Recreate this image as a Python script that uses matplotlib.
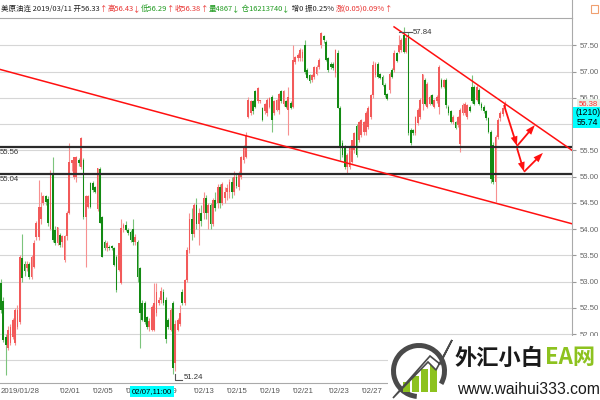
import numpy as np
import matplotlib
matplotlib.use('Agg')
import matplotlib.pyplot as plt
from matplotlib.patches import Rectangle, Wedge, FancyArrowPatch, Polygon
from matplotlib.transforms import blended_transform_factory

# 4-hour candles, crude oil continuous (CL)
opens = [52.97, 52.62, 51.95, 51.73, 51.83, 51.95, 51.83, 52.14, 52.23, 53.44,
         53.34, 53.25, 53.34, 53.09, 53.28, 53.85, 53.85, 54.20, 54.49, 54.62,
         54.58, 54.00, 55.06, 53.98, 53.73, 53.89, 53.76, 53.41, 53.86, 54.30,
         55.25, 55.00, 54.99, 55.31, 55.19, 55.31, 54.23, 54.42, 54.87, 54.87,
         54.80, 54.39, 55.14, 54.23, 53.76, 53.63, 53.66, 53.68, 53.63, 53.47,
         53.22, 52.97, 54.02, 54.07, 53.98, 53.95, 54.00, 53.76, 53.76, 53.25,
         52.59, 52.59, 52.33, 52.14, 52.08, 52.08, 52.40, 52.59, 52.65, 52.80,
         52.65, 52.27, 52.08, 52.59, 51.45, 52.08, 52.20, 52.80, 52.59, 53.03,
         53.60, 54.20, 53.90, 54.45, 54.10, 54.30, 54.30, 54.60, 54.30, 54.45,
         54.10, 54.55, 54.50, 54.80, 54.50, 54.60, 54.70, 54.70, 54.90, 54.70,
         55.00, 54.80, 54.99, 55.31, 55.38, 56.14, 56.21, 56.43, 56.62, 56.43,
         56.43, 56.30, 56.24, 56.21, 56.33, 56.52, 56.21, 56.27, 56.27, 56.62,
         56.39, 56.43, 56.27, 56.40, 56.33, 57.19, 57.25, 57.25, 57.25, 57.50,
         57.03, 56.93, 56.84, 56.90, 56.96, 57.09, 57.50, 57.67, 57.57, 57.25,
         57.15, 57.15, 56.97, 57.35, 56.30, 55.63, 55.57, 55.19, 55.19, 55.28,
         55.50, 55.96, 55.69, 55.79, 55.85, 55.85, 55.95, 56.14, 56.55, 56.93,
         57.15, 56.96, 56.90, 56.74, 56.58, 56.65, 57.03, 57.03, 57.35, 57.38,
         57.41, 57.70, 57.38, 57.70, 55.88, 55.88, 55.82, 56.01, 56.14, 56.39,
         56.84, 56.33, 56.39, 56.55, 56.33, 56.43, 56.32, 56.84, 56.71, 56.84,
         56.33, 56.24, 56.04, 56.04, 55.98, 55.62, 56.21, 56.21, 56.14, 56.33,
         56.71, 56.71, 56.46, 56.65, 56.39, 56.33, 56.24, 56.11, 55.85, 55.60,
         54.90, 55.76, 56.11, 56.20, 56.33]
highs = [53.05, 52.70, 52.00, 52.15, 52.20, 52.30, 52.50, 52.55, 53.50, 53.91,
         53.40, 53.40, 53.38, 53.50, 53.80, 54.15, 54.93, 54.71, 54.65, 54.65,
         54.62, 55.12, 55.38, 54.05, 54.04, 53.92, 53.89, 53.89, 54.35, 55.63,
         55.32, 55.38, 55.40, 55.35, 55.76, 55.35, 54.65, 54.65, 54.90, 54.92,
         54.82, 55.16, 55.18, 54.25, 53.80, 53.78, 53.70, 53.70, 53.65, 53.50,
         53.73, 54.20, 54.12, 54.15, 54.02, 53.98, 54.20, 53.90, 53.80, 53.28,
         52.65, 52.62, 52.35, 52.30, 52.55, 52.97, 52.97, 52.70, 52.90, 52.85,
         52.70, 52.30, 52.50, 52.62, 52.27, 52.30, 52.55, 52.85, 53.05, 53.66,
         54.30, 54.40, 54.50, 54.60, 54.40, 54.45, 54.70, 54.65, 54.50, 54.50,
         54.60, 54.70, 54.85, 54.85, 54.90, 54.80, 54.85, 54.95, 55.00, 55.10,
         55.05, 55.10, 55.40, 55.60, 55.85, 56.52, 56.45, 56.46, 56.65, 56.71,
         56.46, 56.33, 56.40, 56.50, 56.52, 56.55, 56.45, 56.48, 56.60, 56.65,
         56.65, 56.46, 56.71, 56.43, 57.50, 57.30, 57.35, 57.45, 57.42, 57.60,
         57.06, 56.96, 56.96, 57.10, 57.12, 57.25, 57.76, 57.70, 57.60, 57.28,
         57.18, 57.18, 57.42, 57.40, 56.35, 55.70, 55.60, 55.45, 55.60, 55.70,
         55.85, 56.00, 56.06, 56.10, 56.06, 56.25, 56.35, 56.58, 57.20, 57.18,
         57.18, 56.98, 56.93, 56.78, 56.60, 57.00, 57.06, 57.40, 57.38, 57.70,
         57.64, 57.84, 57.70, 57.75, 55.92, 55.90, 56.16, 56.30, 56.50, 56.96,
         56.88, 56.80, 56.55, 56.58, 56.48, 56.55, 57.12, 56.87, 56.86, 56.87,
         56.36, 56.27, 56.18, 56.06, 56.16, 56.30, 56.40, 56.42, 56.38, 56.36,
         56.93, 56.75, 56.74, 56.68, 56.42, 56.36, 56.27, 56.14, 55.88, 55.65,
         55.80, 56.11, 56.25, 56.33, 56.43]
lows = [52.40, 51.85, 51.22, 51.70, 51.80, 51.90, 51.80, 52.10, 52.20, 53.00,
        53.10, 53.20, 53.05, 53.05, 53.25, 53.80, 53.80, 54.10, 54.45, 54.45,
        54.05, 53.98, 53.75, 53.70, 53.70, 53.65, 53.65, 53.38, 53.80, 54.28,
        55.10, 54.95, 54.90, 55.20, 55.15, 54.20, 53.28, 54.40, 54.40, 54.70,
        54.68, 54.35, 54.11, 53.47, 53.60, 53.58, 53.60, 53.60, 53.30, 52.80,
        53.20, 52.95, 53.95, 53.96, 53.88, 53.76, 53.70, 53.70, 53.00, 51.73,
        52.25, 52.20, 52.10, 52.05, 52.05, 52.05, 52.35, 52.55, 52.60, 52.55,
        51.83, 52.10, 52.05, 51.24, 51.30, 52.05, 52.15, 52.55, 52.55, 53.00,
        53.55, 53.80, 53.85, 54.00, 53.70, 54.05, 54.20, 54.20, 54.00, 54.00,
        54.05, 54.35, 54.40, 54.40, 54.45, 54.50, 54.55, 54.60, 54.60, 54.65,
        54.78, 54.75, 54.95, 55.25, 55.35, 56.11, 56.18, 56.20, 56.30, 56.40,
        56.40, 56.05, 56.20, 56.15, 56.30, 55.85, 56.18, 56.25, 56.20, 56.40,
        56.35, 56.30, 55.79, 56.28, 56.30, 57.15, 57.20, 57.20, 57.20, 56.95,
        56.85, 56.78, 56.80, 56.85, 56.93, 57.05, 57.45, 57.55, 57.20, 57.00,
        57.05, 57.03, 56.90, 56.30, 55.31, 55.38, 55.15, 55.06, 55.15, 55.25,
        55.45, 55.38, 55.65, 55.75, 55.80, 55.80, 55.90, 56.10, 56.50, 56.90,
        56.88, 56.85, 56.72, 56.52, 56.45, 56.60, 56.88, 57.00, 57.18, 57.35,
        57.38, 57.35, 57.35, 55.79, 55.60, 55.80, 55.80, 55.98, 56.10, 56.27,
        56.36, 56.30, 56.36, 56.36, 56.30, 56.40, 56.20, 56.68, 56.68, 56.30,
        56.18, 56.01, 56.00, 55.90, 55.95, 55.47, 56.18, 56.18, 56.10, 56.22,
        56.40, 56.36, 56.43, 56.36, 56.27, 56.21, 56.08, 55.82, 54.87, 54.85,
        54.52, 55.72, 56.05, 56.15, 56.29]
closes = [52.46, 51.89, 51.80, 52.08, 52.14, 52.27, 52.46, 52.46, 53.47, 53.06,
          53.20, 53.34, 53.09, 53.47, 53.73, 54.11, 54.42, 54.42, 54.62, 54.52,
          54.11, 55.06, 53.79, 53.73, 54.04, 53.70, 53.86, 53.86, 54.30, 55.28,
          55.31, 55.38, 55.38, 55.25, 55.73, 54.23, 54.62, 54.62, 54.42, 54.74,
          54.71, 55.16, 54.11, 53.47, 53.63, 53.74, 53.63, 53.63, 53.31, 52.84,
          53.73, 54.02, 54.07, 53.99, 53.92, 53.79, 53.76, 53.85, 53.09, 52.40,
          52.27, 52.23, 52.14, 52.25, 52.52, 52.59, 52.80, 52.65, 52.82, 52.59,
          51.90, 52.14, 52.45, 51.35, 52.20, 52.27, 52.40, 52.60, 53.03, 53.60,
          54.20, 53.90, 54.45, 54.10, 54.30, 54.15, 54.60, 54.30, 54.45, 54.10,
          54.55, 54.40, 54.80, 54.50, 54.85, 54.70, 54.78, 54.90, 54.70, 55.00,
          54.82, 55.05, 55.38, 55.57, 55.79, 56.46, 56.43, 56.24, 56.33, 56.68,
          56.45, 56.08, 56.39, 56.46, 56.49, 56.08, 56.43, 56.46, 56.58, 56.43,
          56.62, 56.33, 56.52, 56.30, 57.22, 57.28, 57.31, 57.41, 57.38, 57.00,
          56.87, 56.81, 56.93, 57.09, 57.09, 57.22, 57.73, 57.60, 57.22, 57.03,
          57.09, 57.06, 57.40, 56.30, 55.54, 55.41, 55.19, 55.41, 55.57, 55.69,
          55.82, 55.41, 56.04, 56.08, 56.04, 56.21, 56.30, 56.55, 57.12, 57.15,
          56.90, 56.87, 56.74, 56.55, 56.48, 56.96, 56.90, 57.35, 57.20, 57.50,
          57.60, 57.38, 57.64, 55.82, 55.63, 55.82, 56.14, 56.27, 56.46, 56.96,
          56.39, 56.77, 56.52, 56.39, 56.46, 56.52, 57.09, 56.71, 56.84, 56.36,
          56.21, 56.04, 56.14, 55.92, 56.14, 56.27, 56.36, 56.39, 56.36, 56.24,
          56.43, 56.39, 56.71, 56.39, 56.30, 56.24, 56.11, 55.85, 54.95, 54.90,
          55.76, 56.08, 56.21, 56.30, 56.38]

# support / resistance levels and trend lines (candle index, price)
levels = [55.56, 55.04]
long_trend = [(-0.42, 57.04), (242.46, 54.10)]
upper_trend = [(166.9, 57.85), (242.46, 55.50)]
arrow_paths = [[(213.6, 56.36), (219.1, 55.58), (226.7, 55.98)],
               [(219.1, 55.54), (222.1, 55.09), (230.1, 55.45)]]
high_idx, low_idx = 171, 73

date_ticks = [0, 25, 39, 53, 66, 82, 96, 110, 124, 139, 153]
date_labels = ['2019/01/28', '02/01', '02/05', '02/07', '02/09', '02/13',
               '02/15', '02/19', '02/21', '02/23', '02/27']
cursor_idx, cursor_label = 55.6, '02/07,11:00'
cursor_count, cursor_price = 1210, 55.74
price_ticks = np.arange(52.0, 57.51, 0.5)

header = [('美原油连 2019/03/11 开56.33', '#222222'), ('↑', '#e8312f'),
          ('高56.43', '#e8312f'), ('↓', '#e8312f'), ('低56.29', '#1f9a1f'),
          ('↑', '#e8312f'), ('收56.38', '#e8312f'), ('↑', '#e8312f'),
          ('量4867', '#1f9a1f'), ('↓', '#1f9a1f'), (' 仓16213740', '#1f9a1f'),
          ('↓', '#1f9a1f'), (' 增0 振0.25% ', '#222222'),
          ('涨(0.05)0.09%', '#e8312f'), ('↑', '#e8312f')]

CJK = ['Noto Sans CJK SC', 'DejaVu Sans']
NUM = 'Liberation Sans'
FS = 5.6
UP_BODY, UP_WICK = '#f25a5a', '#f79090'
DN_BODY, DN_WICK = '#138a13', '#7cc47c'

fig = plt.figure(figsize=(6, 4), dpi=100)
ax = fig.add_axes([0, 17 / 400, 572 / 600, 365 / 400])

o = np.array(opens)
h = np.array(highs)
l = np.array(lows)
c = np.array(closes)
idx = np.arange(len(o))
up = c >= o

# candles
ax.vlines(idx[up], l[up], h[up], color=UP_WICK, lw=0.8, zorder=2)
ax.vlines(idx[~up], l[~up], h[~up], color=DN_WICK, lw=0.8, zorder=2)
body_lo = np.minimum(o, c)
body_h = np.maximum(np.abs(c - o), 0.015)
ax.bar(idx[up], body_h[up], bottom=body_lo[up], width=0.75, color=UP_BODY, lw=0, zorder=3)
ax.bar(idx[~up], body_h[~up], bottom=body_lo[~up], width=0.75, color=DN_BODY, lw=0, zorder=3)

ax.set_xlim(-0.42, 242.46)
ax.set_ylim(51.067, 58.019)

for p in np.arange(51.5, 58.0, 0.5):
    ax.axhline(p, color='#d6d6d6', lw=0.8, zorder=1)
for lv in levels:
    ax.axhline(lv, color='#2a2a2a', lw=1.6, zorder=4)
    ax.text(-0.7, lv - 0.035, '%.2f' % lv, fontsize=FS, family=NUM, color='#333333',
            va='top', ha='left', zorder=5)

for line in (long_trend, upper_trend):
    xs, ys = zip(*line)
    ax.plot(xs, ys, color='#ff1010', lw=1.1, zorder=5)

for path in arrow_paths:
    for a, b in zip(path[:-1], path[1:]):
        ax.add_patch(FancyArrowPatch(a, b, arrowstyle='simple,head_length=7,head_width=5,tail_width=1.3',
                                     color='#ff1010', lw=0, mutation_scale=1, zorder=6,
                                     shrinkA=0, shrinkB=0))

# max / min markers
hy = highs[high_idx] - 0.09
ax.plot([high_idx - 2, high_idx + 3.5], [hy, hy], color='#555555', lw=0.8, zorder=6)
ax.text(high_idx + 4, hy, '%.2f' % highs[high_idx], fontsize=FS,
        family=NUM, color='#333333', va='center', zorder=6)
ly = lows[low_idx] - 0.11
ax.plot([low_idx + 0.8, low_idx + 0.8, low_idx + 4], [lows[low_idx], ly, ly],
        color='#555555', lw=0.8, zorder=6)
ax.text(low_idx + 4.6, ly + 0.04, '%.2f' % lows[low_idx], fontsize=FS,
        family=NUM, color='#333333', va='center', zorder=6)

# right price axis
ax.yaxis.tick_right()
ax.set_yticks(price_ticks)
ax.set_yticklabels(['%.2f' % v for v in price_ticks], fontsize=FS, family=NUM, color='#666666')
ax.tick_params(axis='y', length=3, color='#999999', pad=2.5)
ax.set_xticks([])
ax.spines['left'].set_visible(False)
for side in ('right', 'top', 'bottom'):
    ax.spines[side].set_color('#aaaaaa')
    ax.spines[side].set_linewidth(0.8)

# date labels under the axis
bt = blended_transform_factory(ax.transData, ax.transAxes)
for i, (t, lab) in enumerate(zip(date_ticks, date_labels)):
    txt = lab if i == 0 else "'" + lab
    ax.text(t, -0.014, txt, transform=bt, fontsize=FS, family=NUM, color='#555555',
            va='top', ha='left', clip_on=False)
ax.text(cursor_idx, -0.014, cursor_label, transform=bt, fontsize=FS, family=NUM,
        color='black', va='top', ha='left', clip_on=False, zorder=8,
        bbox=dict(boxstyle='square,pad=0.25', fc='#00ffff', ec='none'))

# last price on the price axis
ax.text(1.012, closes[-1], '%.2f' % closes[-1], transform=blended_transform_factory(ax.transAxes, ax.transData),
        fontsize=FS, family=NUM, color='#ff3030', va='center', ha='left', clip_on=False,
        bbox=dict(boxstyle='square,pad=0.2', fc='#e6efe6', ec='none'))

# overlay in pixel units for the header, readout box and watermark
ov = fig.add_axes([0, 0, 1, 1], zorder=10)
ov.set_xlim(0, 600)
ov.set_ylim(400, 0)
ov.axis('off')
ov.patch.set_alpha(0)

ov.add_patch(Rectangle((573, 107), 27, 21, fc='#00ffff', ec='none'))
ov.text(575.5, 112.5, '(%d)' % cursor_count, fontsize=6.2, family=NUM, color='black', va='center')
ov.text(576.5, 122.5, '%.2f' % cursor_price, fontsize=6.2, family=NUM, color='black', va='center')

ov.plot([572, 572], [0, 18], color='#aaaaaa', lw=0.8)
ov.add_patch(Rectangle((591, 5), 7, 8, fill=False, ec='#f0a070', lw=0.8))
renderer = fig.canvas.get_renderer()
x = 1
for s, col in header:
    t = ov.text(x, 9, s, fontsize=5.4, family=CJK, color=col, va='center', ha='left')
    x += t.get_window_extent(renderer).width * 600 / fig.bbox.width

# watermark logo, bottom right
ov.add_patch(Rectangle((388, 336), 212, 64, fc='white', ec='none'))
ov.add_patch(Wedge((419, 371), 28, 95, 30, width=5, fc='#4a4a4a', ec='none'))
for bx, bh in zip([403, 412, 421, 430], [10, 16, 23, 30]):
    ov.add_patch(Rectangle((bx, 392 - bh), 7, bh, fc='#8dc21f', ec='none'))
ov.add_patch(Polygon([(393, 398), (428, 362), (436, 370), (452, 340), (440, 364), (430, 356)],
                     fc='white', ec='#4a4a4a', lw=1.2))
ov.text(455, 358, '外汇小白', fontsize=16, family=CJK, fontweight='bold', color='#1a1a1a', va='center', ha='left')
ov.text(545, 358, 'EA网', fontsize=16, family=CJK, fontweight='bold', color='#8dc21f', va='center', ha='left')
ov.text(457, 390, 'www.waihui333.com', fontsize=11.3, family=NUM, color='#1a1a1a', va='center', ha='left')

fig.savefig('out.png', dpi=100)
